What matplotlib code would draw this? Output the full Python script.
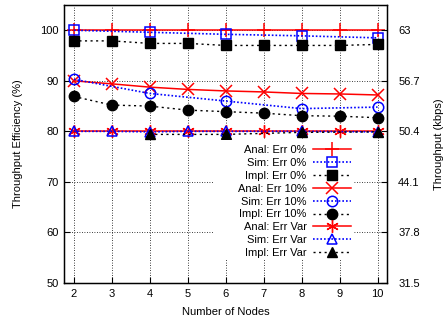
import matplotlib
matplotlib.use("Agg")
import matplotlib.pyplot as plt
from matplotlib.patches import Rectangle

plt.rcParams['font.family'] = ['Liberation Sans', 'DejaVu Sans']
plt.rcParams['font.size'] = 8

nodes = [2, 3, 4, 5, 6, 7, 8, 9, 10]
even_nodes = [2, 4, 6, 8, 10]

anal_err0 = [100, 100, 100, 100, 100, 100, 100, 100, 100]
sim_err0 = [100, 99.6, 99.2, 98.9, 98.5]
impl_err0 = [97.9, 97.9, 97.4, 97.4, 97.0, 97.0, 97.0, 97.0, 97.2]

anal_err10 = [90.0, 89.4, 88.75, 88.3, 88.0, 87.8, 87.5, 87.4, 87.2]
sim_err10 = [90.3, 87.5, 86.0, 84.5, 84.8]
impl_err10 = [86.9, 85.2, 85.0, 84.2, 83.9, 83.6, 83.1, 83.0, 82.7]

anal_errvar = [80, 80, 80, 80, 80, 80, 80, 80, 80]
simvar_nodes = [2, 3, 4, 5, 6, 8, 10]
sim_errvar = [80.0, 80.0, 79.9, 80.0, 80.0, 80.0, 79.9]
implvar_nodes = [4, 6, 8, 10]
impl_errvar = [79.4, 79.4, 79.8, 79.9]

W, H = 443, 323
L, R, T, B = 64, 387, 5, 283
fig = plt.figure(figsize=(W/100, H/100), dpi=100)
ax = fig.add_axes([L/W, 1-B/H, (R-L)/W, (B-T)/H])

def axx(px):
    return (px - L) / (R - L)

def axy(py):
    return (B - py) / (B - T)

red = '#ff0000'
blue = '#0000ff'
blk = '#000000'
ms = 7.5
blue_ls = (0, (1, 1.2))
blk_ls = (0, (1.5, 2.5))

ax.plot(nodes, anal_err0, color=red, lw=1.1, marker='+', ms=10, mew=1.1, label='Anal: Err 0%')
ax.plot(even_nodes, sim_err0, color=blue, lw=1.2, ls=blue_ls, marker='s', ms=ms, mfc='none', mew=1.1, label='Sim: Err 0%')
ax.plot(nodes, impl_err0, color=blk, lw=1.0, ls=blk_ls, marker='s', ms=ms, label='Impl: Err 0%')

ax.plot(nodes, anal_err10, color=red, lw=1.1, marker='x', ms=8, mew=1.1, label='Anal: Err 10%')
ax.plot(even_nodes, sim_err10, color=blue, lw=1.2, ls=blue_ls, marker='o', ms=ms, mfc='none', mew=1.1, label='Sim: Err 10%')
ax.plot(nodes, impl_err10, color=blk, lw=1.0, ls=blk_ls, marker='o', ms=ms, label='Impl: Err 10%')

ax.plot(nodes, anal_errvar, color=red, lw=1.1, marker=(6, 2, 0), ms=9, mew=1.0, label='Anal: Err Var')
ax.plot(simvar_nodes, sim_errvar, color=blue, lw=1.2, ls=blue_ls, marker='^', ms=ms, mfc='none', mew=1.1, label='Sim: Err Var')
ax.plot(implvar_nodes, impl_errvar, color=blk, lw=1.0, ls=blk_ls, marker='^', ms=ms-1, label='Impl: Err Var')

ax.set_xlim(1.74, 10.25)
ax.set_ylim(50, 105)
ax.set_xticks(nodes)
ax.set_yticks([50, 60, 70, 80, 90, 100])
ax.grid(True, color='black', ls=(0, (1, 2)), lw=0.6)
ax.tick_params(direction='in', length=4, width=0.8, pad=4)
ax.set_xlabel('Number of Nodes', labelpad=6)
ax.set_ylabel('Throughput Efficiency (%)', labelpad=12)
for s in ax.spines.values():
    s.set_linewidth(1.0)

# white backing box of the key (hides the grid behind it)
ax.add_patch(Rectangle((axx(213), axy(259)), axx(353) - axx(213), axy(140) - axy(259),
                       transform=ax.transAxes, facecolor='white', edgecolor='none', zorder=4))

ax2 = ax.twinx()
ax2.set_ylim(50*0.63, 105*0.63)
rt = [31.5, 37.8, 44.1, 50.4, 56.7, 63.0]
ax2.set_yticks(rt)
ax2.set_yticklabels(['31.5', '37.8', '44.1', '50.4', '56.7', '63'])
ax2.tick_params(direction='in', length=4, width=0.8, pad=8)
ax2.set_ylabel('Throughput (kbps)', labelpad=10)

leg = ax.legend(loc='upper right', bbox_to_anchor=(axx(351), axy(145)),
                markerfirst=False, frameon=False,
                handlelength=3.4, handletextpad=0.6, labelspacing=0.26,
                borderpad=0.0, borderaxespad=0, fontsize=8)
leg.set_zorder(5)

fig.savefig('out.png', dpi=100)
